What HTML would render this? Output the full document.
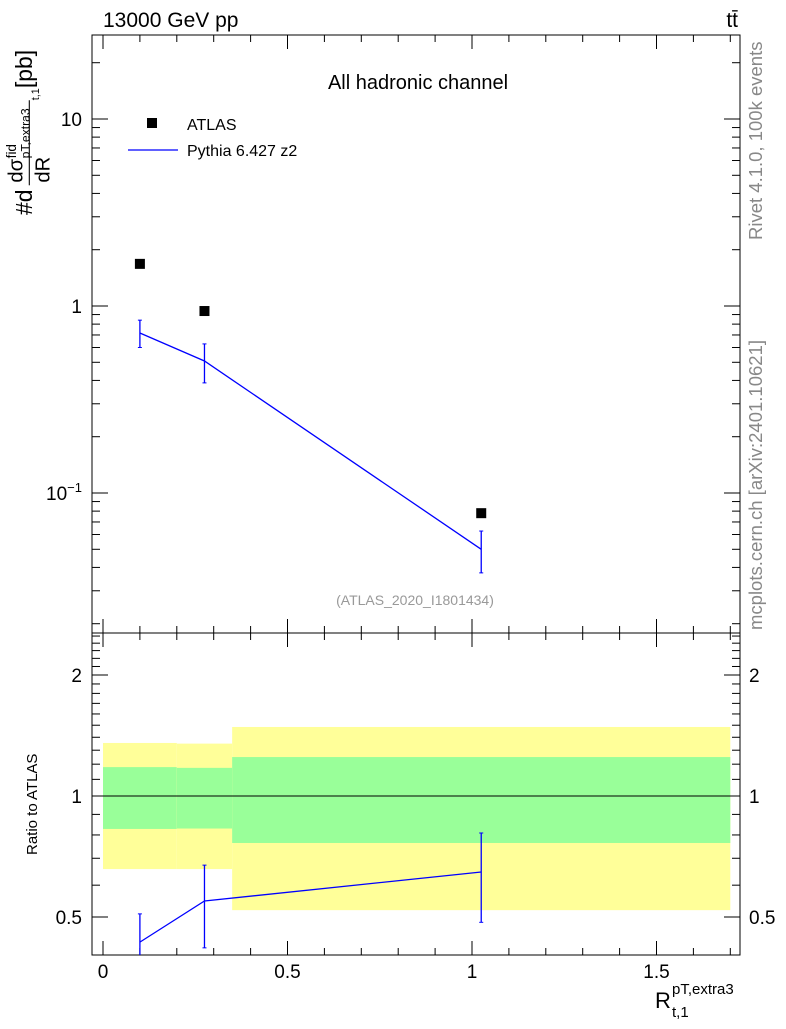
<!DOCTYPE html>
<html><head><meta charset="utf-8"><style>
body{margin:0;background:#fff;font-family:"Liberation Sans",sans-serif}
svg text{font-family:"Liberation Sans",sans-serif}
</style></head><body>
<svg id="c" width="786" height="1024" viewBox="0 0 786 1024" xmlns="http://www.w3.org/2000/svg">
<text x="103" y="27" font-size="21">13000 GeV pp</text>
<text x="738" y="27" font-size="21" text-anchor="end">tt̄</text>
<text x="418" y="89" font-size="20" text-anchor="middle">All hadronic channel</text>
<text x="415" y="605" font-size="14" fill="#999" text-anchor="middle">(ATLAS_2020_I1801434)</text>
<text transform="translate(762,240) rotate(-90)" font-size="18.5" fill="#888">Rivet 4.1.0,  100k events</text>
<text transform="translate(762,630) rotate(-90)" font-size="18.5" fill="#888">mcplots.cern.ch [arXiv:2401.10621]</text>
<g transform="translate(32,215) rotate(-90) scale(1.35)">
<text x="0" y="0" font-size="17">#d</text>
<text x="24" y="-7" font-size="15">dσ</text><text x="42" y="-12" font-size="10">fid</text>
<text x="42" y="-2" font-size="9">pT,extra3</text>
<line x1="22" y1="-2" x2="85" y2="-2" stroke="#000" stroke-width="0.8"/>
<text x="24" y="13" font-size="15">dR</text><text x="85" y="5" font-size="8">t,1</text>
<text x="94" y="0" font-size="17">[pb]</text>
</g>
<text transform="translate(37,855) rotate(-90)" font-size="15">Ratio to ATLAS</text>
<text x="655" y="1008" font-size="22">R</text>
<text x="672" y="994" font-size="15">pT,extra3</text>
<text x="672" y="1017" font-size="15">t,1</text>
<g>
<rect x="147" y="118" width="10" height="10" fill="#000"/>
<text x="187" y="130" font-size="16">ATLAS</text>
<line x1="128" y1="150" x2="178" y2="150" stroke="#00f" stroke-width="1.3"/>
<text x="187" y="156" font-size="16">Pythia 6.427 z2</text>
</g>
<g id="g"></g>
</svg>
<script>
const binEdges=[0,0.2,0.35,1.7];
const xVals=[0.1,0.275,1.025];
const atlasVals=[1.68,0.94,0.078];
const mcVals=[0.717,0.508,0.050];
const mcErrUp=[0.84,0.627,0.0626];
const mcErrDn=[0.60,0.388,0.0374];
const bandYellowHi=[1.355,1.35,1.485];
const bandYellowLo=[0.658,0.658,0.52];
const bandGreenHi=[1.18,1.175,1.25];
const bandGreenLo=[0.828,0.83,0.764];
const ratioVals=[0.433,0.548,0.647];
const ratioErrUp=[0.509,0.673,0.809];
const ratioErrDn=[0.35,0.419,0.485];
const xTicks=[0,0.5,1,1.5];
const xTickLabels=["0","0.5","1","1.5"];
const yTicks=[0.1,1,10];
const ratioTicks=[0.5,1,2];

const L=92,R=740,T=35,M=633,B=955;
const X=v=>103+v*369;
const Y=v=>306-Math.log10(v)*187;
const RY=v=>796-Math.log2(v)*121;
const NS="http://www.w3.org/2000/svg";
const g=document.getElementById('g');
function mk(t,a){const e=document.createElementNS(NS,t);for(const k in a)e.setAttribute(k,a[k]);g.appendChild(e);return e;}
for(let i=0;i<3;i++){
 let e=mk('rect',{x:X(binEdges[i]),y:RY(bandYellowHi[i]),width:X(binEdges[i+1])-X(binEdges[i]),height:RY(bandYellowLo[i])-RY(bandYellowHi[i]),fill:'#ffff99'});
 
 
 e=mk('rect',{x:X(binEdges[i]),y:RY(bandGreenHi[i]),width:X(binEdges[i+1])-X(binEdges[i]),height:RY(bandGreenLo[i])-RY(bandGreenHi[i]),fill:'#99ff99'});
 
 
}
let ref=mk('line',{x1:L,x2:R,y1:RY(1),y2:RY(1),stroke:'#000','stroke-width':1});


for(const [y1,y2,n] of [[T,M,'main-frame'],[M,B,'ratio-frame']]){
 const e=mk('rect',{x:L,y:y1,width:R-L,height:y2-y1,fill:'none',stroke:'#000','stroke-width':1});
 
 
}
for(let v=0;v<=1.7001;v+=0.1){
 const maj=Math.abs(v*2-Math.round(v*2))<1e-6, len=maj?14:7;
 for(const [yb,yt] of [[M,T],[B,M]]){
  let e=mk('line',{x1:X(v),x2:X(v),y1:yb,y2:yb-len,stroke:'#000'});
  
  e=mk('line',{x1:X(v),x2:X(v),y1:yt,y2:yt+len,stroke:'#000'});
  
 }
}
xTicks.forEach((v,i)=>{const e=mk('text',{x:X(v),y:978,'font-size':19,'text-anchor':'middle'});e.textContent=xTickLabels[i];
 });
for(let d=-2;d<=1;d++)for(let m=1;m<=9;m++){const v=m*Math.pow(10,d);const y=Y(v);if(y<T||y>M)continue;
 const len=m==1?16:8;
 let e=mk('line',{x1:L,x2:L+len,y1:y,y2:y,stroke:'#000'});
 e=mk('line',{x1:R,x2:R-len,y1:y,y2:y,stroke:'#000'});}
yTicks.forEach(v=>{const e=mk('text',{x:82,y:Y(v)+7,'font-size':19,'text-anchor':'end'});
 if(v==0.1){e.innerHTML='10<tspan dy="-8" font-size="13">−1</tspan>';}else e.textContent=String(v);
 });
for(let v=0.4;v<=2.55;v+=0.1){const y=RY(v);if(y<M||y>B)continue;const maj=ratioTicks.some(t=>Math.abs(t-v)<1e-6);const len=maj?16:8;
 let e=mk('line',{x1:L,x2:L+len,y1:y,y2:y,stroke:'#000'});
 e=mk('line',{x1:R,x2:R-len,y1:y,y2:y,stroke:'#000'});}
ratioTicks.forEach(v=>{let e=mk('text',{x:82,y:RY(v)+7,'font-size':19,'text-anchor':'end'});e.textContent=String(v);
 
 e=mk('text',{x:749,y:RY(v)+7,'font-size':19});e.textContent=String(v);
 });
let pl=mk('polyline',{points:xVals.map((x,i)=>X(x)+','+Y(mcVals[i])).join(' '),fill:'none',stroke:'#00f','stroke-width':1.3});

xVals.forEach((x,i)=>{
 let e=mk('line',{x1:X(x),x2:X(x),y1:Y(mcErrUp[i]),y2:Y(mcErrDn[i]),stroke:'#00f','stroke-width':1.3});
 
 for(const v of [mcErrUp[i],mcErrDn[i]]){e=mk('line',{x1:X(x)-2,x2:X(x)+2,y1:Y(v),y2:Y(v),stroke:'#00f'});}
 e=mk('rect',{x:X(x)-5,y:Y(atlasVals[i])-5,width:10,height:10,fill:'#000'});
 
});
pl=mk('polyline',{points:xVals.map((x,i)=>X(x)+','+RY(ratioVals[i])).join(' '),fill:'none',stroke:'#00f','stroke-width':1.3});

xVals.forEach((x,i)=>{
 const lo=Math.min(RY(ratioErrDn[i]),B);
 let e=mk('line',{x1:X(x),x2:X(x),y1:RY(ratioErrUp[i]),y2:lo,stroke:'#00f','stroke-width':1.3});
 
 for(const y of [RY(ratioErrUp[i]),lo]){if(y>=B)continue;e=mk('line',{x1:X(x)-2,x2:X(x)+2,y1:y,y2:y,stroke:'#00f'});}
});
</script>
</body></html>
